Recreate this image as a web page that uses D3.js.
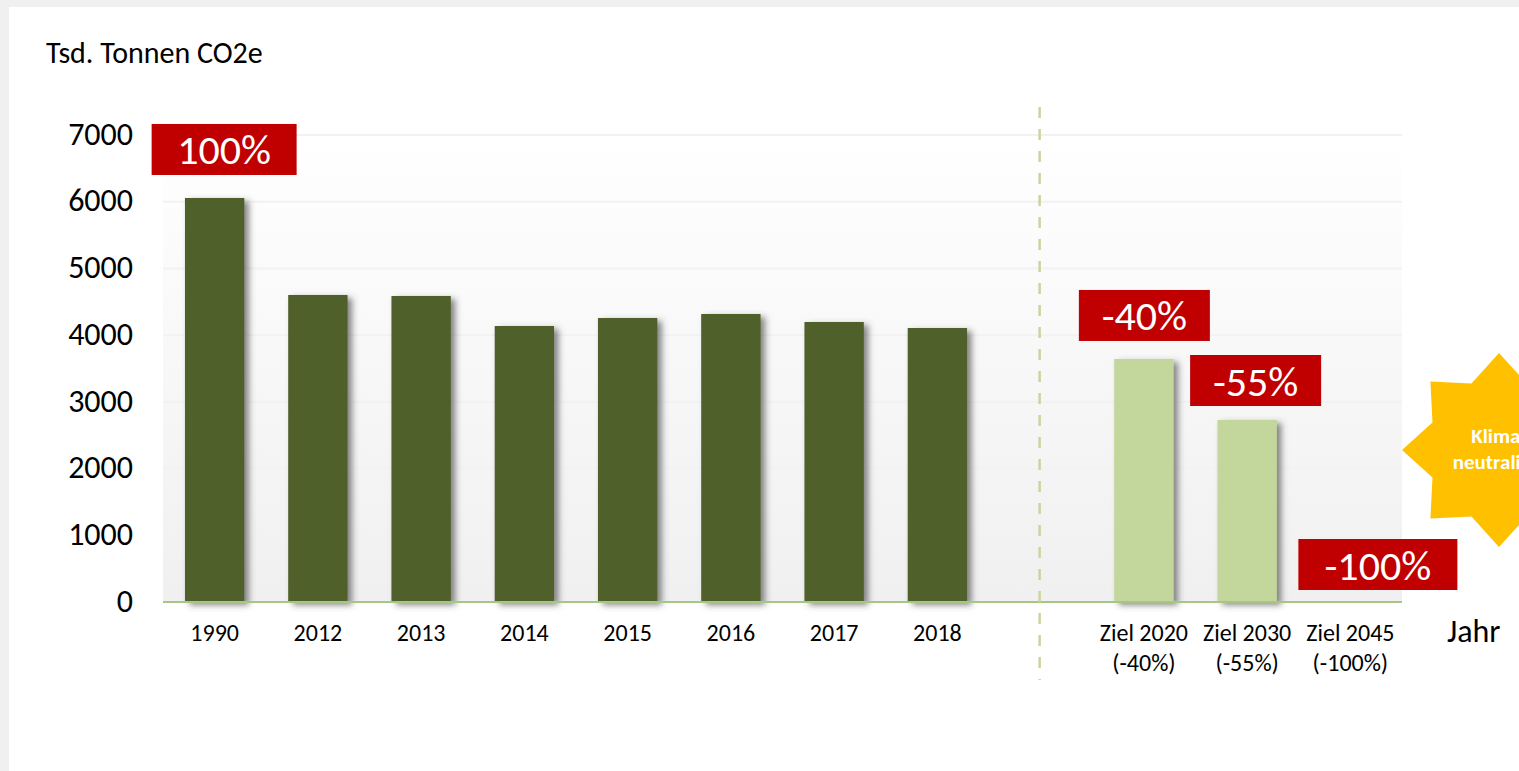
<!DOCTYPE html>
<html><head><meta charset="utf-8">
<script src="https://cdn.jsdelivr.net/npm/d3@7"></script>
<style>html,body{margin:0;padding:0;background:#f0f0f0;overflow:hidden}svg{display:block}text{font-family:Carlito,Lato,"Open Sans",sans-serif}</style>
</head><body><div id="c"></div>
<script>
const categories=["1990","2012","2013","2014","2015","2016","2017","2018","","Ziel 2020","Ziel 2030","Ziel 2045"];
const subLabels=["","","","","","","","","","(-40%)","(-55%)","(-100%)"];
const values=[6056,4602,4587,4137,4257,4317,4197,4107,null,3643,2728,0];
const actualCount=8;
const yTicks=[0,1000,2000,3000,4000,5000,6000,7000];
const badgeText=["100%","-40%","-55%","-100%"];
const badgeCategory=["1990","Ziel 2020","Ziel 2030","Ziel 2045"];
const badgeShift=[9.5,0.5,8.5,27.5];
const badgeLift=[23,18,14,12];
const badgeWidth=[145,131,131,159];

const W=1519,H=771;
const svg=d3.select("#c").append("svg").attr("width",W).attr("height",H);
const defs=svg.append("defs");
const g=defs.append("linearGradient").attr("id","bg").attr("x1",0).attr("y1",0).attr("x2",0).attr("y2",1);
g.append("stop").attr("offset","0%").attr("stop-color","#ffffff");
g.append("stop").attr("offset","100%").attr("stop-color","#f0f0f0");
const f=defs.append("filter").attr("id","sh").attr("x","-30%").attr("y","-10%").attr("width","160%").attr("height","120%");
f.append("feDropShadow").attr("dx",4.5).attr("dy",3).attr("stdDeviation",3).attr("flood-color","#444").attr("flood-opacity",0.65);

svg.append("rect").attr("x",9).attr("y",7).attr("width",W-9).attr("height",H-7).attr("fill","#fff");

const x=d3.scaleBand().domain(categories.map((d,i)=>i)).range([163,1402]).paddingInner(0.425).paddingOuter(0.2125);
const y=d3.scaleLinear().domain([0,7000]).range([602,135]);
const idx=c=>categories.indexOf(c);
const cx=i=>x(i)+x.bandwidth()/2;

svg.append("rect").attr("x",163).attr("y",y(7000)).attr("width",1239).attr("height",y(0)-y(7000)).attr("fill","url(#bg)");

svg.append("g").selectAll("line").data(yTicks.slice(1)).join("line")
 .attr("x1",163).attr("x2",1402).attr("y1",d=>y(d)).attr("y2",d=>y(d)).attr("stroke","#f2f2f2").attr("stroke-width",2);

const yAxis=svg.append("g").attr("transform","translate(163,0)").call(d3.axisLeft(y).tickValues(yTicks).tickSize(0).tickFormat(d3.format("d")));
yAxis.select(".domain").remove();
yAxis.selectAll("text").attr("font-size",32).attr("fill","#000").attr("x",-30).attr("dy","0.29em")
 .style("font-family","Carlito,Lato,sans-serif");

svg.append("g").selectAll("rect").data(values.map((v,i)=>({v,i})).filter(d=>d.v)).join("rect")
 .attr("x",d=>x(d.i)).attr("y",d=>y(d.v)).attr("width",x.bandwidth()).attr("height",d=>y(0)-y(d.v))
 .attr("fill",d=>d.i<actualCount?"#50602b":"#c3d69b").attr("filter","url(#sh)");

svg.append("line").attr("x1",163).attr("x2",1402).attr("y1",y(0)).attr("y2",y(0)).attr("stroke","#a9c585").attr("stroke-width",2);
svg.append("line").attr("x1",cx(idx(""))-1).attr("x2",cx(idx(""))-1).attr("y1",107).attr("y2",680)
 .attr("stroke","#c7d69d").attr("stroke-width",2.5).attr("stroke-dasharray","11 11");

const xl=svg.append("g").selectAll("g").data(categories.map((c,i)=>({c,i,s:subLabels[i]})).filter(d=>d.c)).join("g");
xl.append("text").attr("x",d=>cx(d.i)).attr("y",641).attr("text-anchor","middle").attr("font-size",24).attr("fill","#000").text(d=>d.c);
xl.append("text").attr("x",d=>cx(d.i)).attr("y",671).attr("text-anchor","middle").attr("font-size",24).attr("fill","#000").text(d=>d.s);

svg.append("text").attr("x",46).attr("y",63).attr("font-size",30).attr("fill","#000").text("Tsd. Tonnen CO2e");
svg.append("text").attr("x",1447).attr("y",642).attr("font-size",32).attr("fill","#000").text("Jahr");

// star
const starC=[1499,450],outer=97,inner=72;
const pts=d3.range(16).map(k=>{const a=k*Math.PI/8,r=k%2?inner:outer;return [starC[0]+r*Math.cos(a),starC[1]+r*Math.sin(a)];});
svg.append("polygon").attr("points",pts.map(p=>p.join(",")).join(" ")).attr("fill","#ffc000");
svg.append("text").attr("x",starC[0]).attr("y",443).attr("text-anchor","middle").attr("font-size",21).attr("font-weight",700).attr("fill","#fff").text("Klima-");
svg.append("text").attr("x",starC[0]).attr("y",469).attr("text-anchor","middle").attr("font-size",21).attr("font-weight",700).attr("fill","#fff").text("neutralität");

// badges
badgeText.forEach((t,k)=>{
 const i=idx(badgeCategory[k]),c=cx(i)+badgeShift[k],bottom=y(values[i])-badgeLift[k],w=badgeWidth[k],h=51;
 svg.append("rect").attr("x",c-w/2).attr("y",bottom-h).attr("width",w).attr("height",h).attr("fill","#c00000");
 svg.append("text").attr("x",c).attr("y",bottom-h/2+15).attr("text-anchor","middle").attr("font-size",42).attr("fill","#fff").text(t);
});
</script></body></html>
